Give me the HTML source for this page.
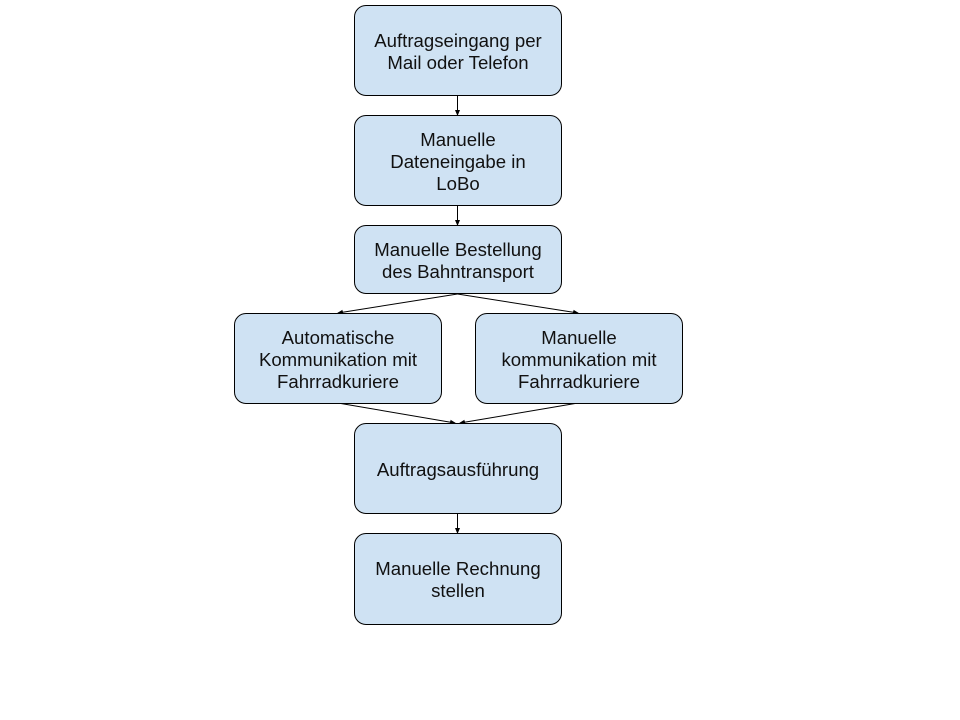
<!DOCTYPE html>
<html><head><meta charset="utf-8"><style>
body{margin:0;width:960px;height:720px;background:#fff;position:relative;font-family:"Liberation Sans",Arial,sans-serif;}
.b{position:absolute;box-sizing:border-box;background:#cfe2f3;border:1px solid #000;border-radius:12px;display:flex;align-items:center;justify-content:center;text-align:center;font-size:18.6px;line-height:22px;color:#111;padding-top:2px;}
svg{position:absolute;left:0;top:0}
</style></head><body>
<svg width="960" height="720">
<defs><marker id="a" markerWidth="6" markerHeight="6" refX="5" refY="3" orient="auto" markerUnits="userSpaceOnUse"><path d="M0,0.5 L6,3 L0,5.5z" fill="#000"/></marker></defs>
<g stroke="#000" stroke-width="1" fill="none" marker-end="url(#a)">
<line x1="457.5" y1="95" x2="457.5" y2="115"/>
<line x1="457.5" y1="205" x2="457.5" y2="225"/>
<line x1="457.5" y1="294" x2="338" y2="313"/>
<line x1="457.5" y1="294" x2="578" y2="313"/>
<line x1="338" y1="403" x2="455" y2="423"/>
<line x1="578" y1="403" x2="460" y2="423"/>
<line x1="457.5" y1="513" x2="457.5" y2="533"/>
</g></svg>
<div class="b" style="left:354px;top:5px;width:208px;height:91px">Auftragseingang per<br>Mail oder Telefon</div>
<div class="b" style="left:354px;top:115px;width:208px;height:91px">Manuelle<br>Dateneingabe in<br>LoBo</div>
<div class="b" style="left:354px;top:225px;width:208px;height:69px">Manuelle Bestellung<br>des Bahntransport</div>
<div class="b" style="left:234px;top:313px;width:208px;height:91px">Automatische<br>Kommunikation mit<br>Fahrradkuriere</div>
<div class="b" style="left:475px;top:313px;width:208px;height:91px">Manuelle<br>kommunikation mit<br>Fahrradkuriere</div>
<div class="b" style="left:354px;top:423px;width:208px;height:91px">Auftragsausführung</div>
<div class="b" style="left:354px;top:533px;width:208px;height:92px">Manuelle Rechnung<br>stellen</div>
</body></html>
